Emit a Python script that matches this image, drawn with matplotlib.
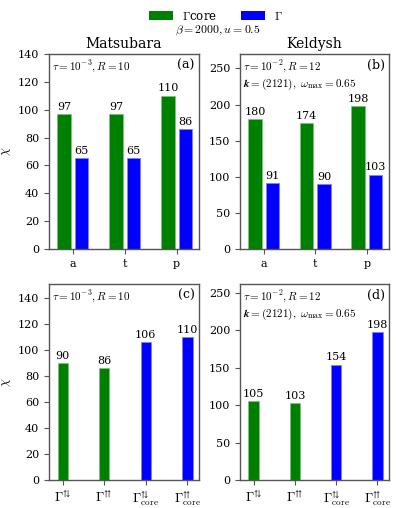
import matplotlib
matplotlib.use("Agg")
import matplotlib.pyplot as plt
import numpy as np
from matplotlib.patches import Patch

plt.rcParams['font.family'] = ['DejaVu Serif', 'DejaVu Sans']
plt.rcParams['mathtext.fontset'] = 'cm'

# ---- data ----
channels = ['a', 't', 'p']
mats_core = [97, 97, 110]
mats_full = [65, 65, 86]
keld_core = [180, 174, 198]
keld_full = [91, 90, 103]

vert_labels = [r'$\Gamma^{⇅}$', r'$\Gamma^{⇈}$',
               r'$\Gamma^{⇅}_{\mathrm{core}}$', r'$\Gamma^{⇈}_{\mathrm{core}}$']
mats_vert = [90, 86, 106, 110]
keld_vert = [105, 103, 154, 198]
vert_colors = ['green', 'green', 'blue', 'blue']

GREEN = 'green'
BLUE = 'blue'
SPINE = '#555555'

W, H = 396, 508
fig = plt.figure(figsize=(W / 100, H / 100), dpi=100)

def rect(l, r, t, b):
    return [l / W, 1 - b / H, (r - l) / W, (b - t) / H]

axa = fig.add_axes(rect(49, 199, 54, 249))
axb = fig.add_axes(rect(240, 389, 54, 249))
axc = fig.add_axes(rect(49, 199, 284, 480))
axd = fig.add_axes(rect(240, 389, 284, 480))

def style(ax):
    for s in ax.spines.values():
        s.set_color(SPINE)
        s.set_linewidth(1.0)
    ax.tick_params(colors=SPINE, labelcolor='black', labelsize=8, length=3.5)

def grouped(ax, core, full, ymax):
    x = np.arange(len(channels))
    w = 0.26
    off = 0.17
    b1 = ax.bar(x - off, core, w, color=GREEN, edgecolor='#7fc07f', linewidth=0.6)
    b2 = ax.bar(x + off, full, w, color=BLUE, edgecolor='#8080ff', linewidth=0.6)
    for bars, vals in ((b1, core), (b2, full)):
        for r, v in zip(bars, vals):
            ax.text(r.get_x() + r.get_width() / 2, v + ymax * 0.012, f'{v}',
                    ha='center', va='bottom', fontsize=8)
    ax.set_xticks(x)
    ax.set_xticklabels(channels)
    ax.set_xlim(-0.46, 2.43)
    ax.set_ylim(0, ymax)
    style(ax)

def single(ax, vals, ymax):
    x = np.arange(len(vert_labels))
    edges = ['#7fc07f' if c == 'green' else '#8080ff' for c in vert_colors]
    bars = ax.bar(x, vals, 0.25, color=vert_colors, edgecolor=edges, linewidth=0.6)
    for r, v in zip(bars, vals):
        ax.text(r.get_x() + r.get_width() / 2, v + ymax * 0.012, f'{v}',
                ha='center', va='bottom', fontsize=8)
    ax.set_xticks(x)
    ax.set_xlim(-0.33, 3.28)
    ax.set_ylim(0, ymax)
    style(ax)
    ax.set_xticklabels(vert_labels, fontsize=9.5)

grouped(axa, mats_core, mats_full, 140)
grouped(axb, keld_core, keld_full, 270)
single(axc, mats_vert, 151)
single(axd, keld_vert, 262)

axa.set_yticks(np.arange(0, 141, 20))
axc.set_yticks(np.arange(0, 141, 20))
axb.set_yticks(np.arange(0, 251, 50))
axd.set_yticks(np.arange(0, 251, 50))

axa.set_title('Matsubara', fontsize=10, pad=4)
axb.set_title('Keldysh', fontsize=10, pad=4)

for ax in (axa, axc):
    ax.set_ylabel(r'$\chi$', fontsize=9)
    ax.yaxis.set_label_coords(-0.24, 0.5)

m_txt = r'$\tau = 10^{-3}, R = 10$'
k_txt = r'$\tau = 10^{-2}, R = 12$' + '\n' + r'$\boldsymbol{k} = (2121),\ \omega_{\max} = 0.65$'
for ax, txt, lab in ((axa, m_txt, '(a)'), (axb, k_txt, '(b)'),
                     (axc, m_txt, '(c)'), (axd, k_txt, '(d)')):
    ax.text(0.02, 0.975, txt, transform=ax.transAxes, ha='left', va='top',
            fontsize=8, linespacing=1.2)
    ax.text(0.97, 0.975, lab, transform=ax.transAxes, ha='right', va='top',
            fontsize=9)

handles = [Patch(facecolor=GREEN), Patch(facecolor=BLUE)]
fig.legend(handles, [r'$\Gamma$core', r'$\Gamma$'], loc='center',
           bbox_to_anchor=(216 / W, 1 - 16 / H), ncol=2, frameon=False,
           fontsize=8.5, handlelength=2.0, columnspacing=2.0, handletextpad=0.8)
fig.text(218 / W, 1 - 31 / H, r'$\beta = 2000, u = 0.5$', ha='center', va='center',
         fontsize=8.5)

fig.savefig('out.png', dpi=100)
